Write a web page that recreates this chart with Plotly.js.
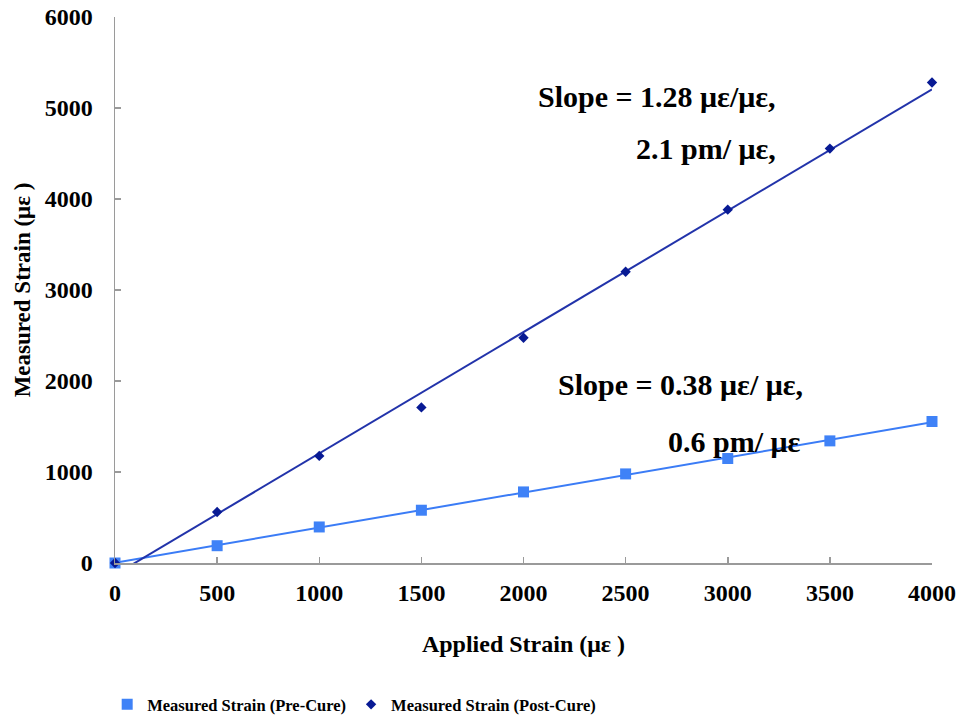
<!DOCTYPE html>
<html>
<head>
<meta charset="utf-8">
<script src="https://cdn.plot.ly/plotly-3.0.1.min.js"></script>
<style>html,body{margin:0;padding:0;background:#fff;}#chart{width:957px;height:719px;}</style>
</head>
<body>
<div id="chart"></div>
<script>
// ---- data ----
const appliedStrain = [0, 500, 1000, 1500, 2000, 2500, 3000, 3500, 4000];
const preCure  = [0, 190, 396, 580, 781, 979, 1148, 1342, 1555];
const postCure = [0, 560, 1177, 1710, 2475, 3201, 3883, 4554, 5280];
const seriesNames = ['Measured Strain (Pre-Cure)', 'Measured Strain (Post-Cure)'];
const slopeLabels = ['Slope = 1.28 με/με,', '2.1 pm/ με,', 'Slope = 0.38 με/ με,', '0.6 pm/ με'];

// least-squares linear trendline over the data
function fit(xs, ys) {
  const n = xs.length;
  const mx = xs.reduce((a, b) => a + b, 0) / n;
  const my = ys.reduce((a, b) => a + b, 0) / n;
  let sxy = 0, sxx = 0;
  for (let i = 0; i < n; i++) { sxy += (xs[i] - mx) * (ys[i] - my); sxx += (xs[i] - mx) ** 2; }
  const m = sxy / sxx, b = my - m * mx;
  const x0 = xs[0], x1 = xs[n - 1];
  return { x: [x0, x1], y: [m * x0 + b, m * x1 + b] };
}
const preFit = fit(appliedStrain, preCure);
const postFit = fit(appliedStrain, postCure);

const PRE_LINE = '#3b7cf6', PRE_MARK = '#3f82f7';
const POST_LINE = '#2233aa', POST_MARK = '#081a94';
const FONT = '"Liberation Serif", "Times New Roman", Times, serif';

const traces = [
  { x: preFit.x, y: preFit.y, mode: 'lines', line: { color: PRE_LINE, width: 2 }, showlegend: false, hoverinfo: 'skip' },
  { x: postFit.x, y: postFit.y, mode: 'lines', line: { color: POST_LINE, width: 2 }, showlegend: false, hoverinfo: 'skip' },
  { x: appliedStrain, y: preCure, name: seriesNames[0], mode: 'markers', cliponaxis: false,
    marker: { symbol: 'square', size: 11, color: PRE_MARK } },
  { x: appliedStrain, y: postCure, name: seriesNames[1], mode: 'markers', cliponaxis: false,
    marker: { symbol: 'diamond', size: 8, color: POST_MARK } }
];

const annFont = { family: FONT, size: 30, color: '#000', weight: 'bold' };
const layout = {
  width: 957, height: 719,
  margin: { l: 115, r: 25, t: 17, b: 156 },
  paper_bgcolor: '#fff', plot_bgcolor: '#fff',
  font: { family: FONT, color: '#000' },
  xaxis: {
    range: [0, 4000], dtick: 500, tick0: 0, showgrid: false, zeroline: false,
    showline: true, linecolor: '#9a9a9a', linewidth: 1.5,
    ticks: 'inside', ticklen: 6, tickcolor: '#9a9a9a', tickwidth: 1.5,
    ticklabelstandoff: 8,
    tickfont: { family: FONT, size: 24, weight: 'bold', color: '#000' },
    title: { text: 'Applied Strain (με )', standoff: 30, font: { family: FONT, size: 24, weight: 'bold', color: '#000' } }
  },
  yaxis: {
    range: [0, 6000], dtick: 1000, tick0: 0, showgrid: false, zeroline: false,
    showline: true, linecolor: '#9a9a9a', linewidth: 1.5,
    ticks: 'inside', ticklen: 6, tickcolor: '#9a9a9a', tickwidth: 1.5,
    ticklabelstandoff: 16,
    tickfont: { family: FONT, size: 24, weight: 'bold', color: '#000' },
    title: { text: 'Measured Strain (με )', standoff: 7, font: { family: FONT, size: 23, weight: 'bold', color: '#000' } }
  },
  legend: {
    orientation: 'h', x: 0.112, xref: 'container', xanchor: 'left', y: 0.02, yref: 'container', yanchor: 'middle',
    font: { family: FONT, size: 16.5, weight: 'bold', color: '#000' }, itemwidth: 30, traceorder: 'normal'
  },
  annotations: [
    { x: 3246, y: 5130, xref: 'x', yref: 'y', xanchor: 'right', yanchor: 'middle', text: slopeLabels[0], showarrow: false, font: annFont },
    { x: 3246, y: 4550, xref: 'x', yref: 'y', xanchor: 'right', yanchor: 'middle', text: slopeLabels[1], showarrow: false, font: annFont },
    { x: 3378, y: 1966, xref: 'x', yref: 'y', xanchor: 'right', yanchor: 'middle', text: slopeLabels[2], showarrow: false, font: annFont },
    { x: 3370, y: 1335, xref: 'x', yref: 'y', xanchor: 'right', yanchor: 'middle', text: slopeLabels[3], showarrow: false, font: annFont }
  ]
};

Plotly.newPlot('chart', traces, layout, { displayModeBar: false, staticPlot: true });
</script>
</body>
</html>
